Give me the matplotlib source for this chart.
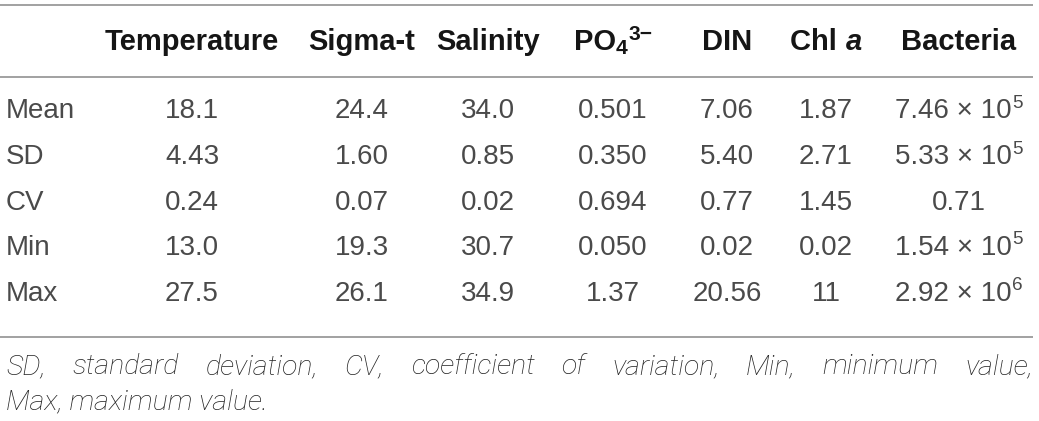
import matplotlib
matplotlib.use('Agg')
import matplotlib.pyplot as plt

row_labels = ['Mean', 'SD', 'CV', 'Min', 'Max']
temperature = ['18.1', '4.43', '0.24', '13.0', '27.5']
sigma_t = ['24.4', '1.60', '0.07', '19.3', '26.1']
salinity = ['34.0', '0.85', '0.02', '30.7', '34.9']
phosphate = ['0.501', '0.350', '0.694', '0.050', '1.37']
din = ['7.06', '5.40', '0.77', '0.02', '20.56']
chl_a = ['1.87', '2.71', '1.45', '0.02', '11']
bacteria_base = ['7.46 \u00d7 10', '5.33 \u00d7 10', '0.71', '1.54 \u00d7 10', '2.92 \u00d7 10']
bacteria_exp = ['5', '5', '', '5', '6']
footnote = ('SD, standard deviation, CV, coefficient of variation, '
            'Min, minimum value,')
footnote_2 = 'Max, maximum value.'

W, H = 1039, 421
BODY = 'Liberation Sans'
HEAD = 'Liberation Sans'
BODY_COLOR = '#4a4a4a'
HEAD_COLOR = '#151515'
LINE_COLOR = '#9a9a9a'
FS = 20
HFS = 21

fig = plt.figure(figsize=(W / 100, H / 100), dpi=100)
ax = fig.add_axes([0, 0, 1, 1])
ax.set_xlim(0, W)
ax.set_ylim(H, 0)
ax.axis('off')
renderer = fig.canvas.get_renderer()


def width_of(t):
    bb = t.get_window_extent(renderer)
    return bb.width


def runs(x_center, y, parts):
    # parts: list of (text, size, kwargs, dy, dx)
    items = []
    for s, size, kw, dy, dx in parts:
        t = ax.text(0, y + dy, s, fontsize=size, va='center', ha='left', **kw)
        items.append((t, dx))
    total = sum(width_of(t) + dx for t, dx in items)
    x = x_center - total / 2
    for t, dx in items:
        x += dx
        t.set_x(x)
        x += width_of(t)


# rules
for yl in [5, 77, 337]:
    ax.plot([0, 1033], [yl, yl], color=LINE_COLOR, lw=1.3, solid_capstyle='butt')

col_x = [192, 362, 488, 613, 727, 826, 959]
head_y = 42
row_y = [111, 157, 203, 248, 294]

hk = dict(family=HEAD, weight='bold', color=HEAD_COLOR)
for name, x in zip(['Temperature', 'Sigma-t', 'Salinity', 'DIN', 'Bacteria'],
                   [col_x[0], col_x[1], col_x[2], col_x[4], col_x[6]]):
    ax.text(x, head_y, name, fontsize=HFS, ha='center', va='center', **hk)
runs(col_x[3], head_y, [('PO', HFS, hk, 0, 0), ('4', HFS * 0.72, hk, 7, 0),
                        ('3\u2212', HFS * 0.72, hk, -8, 1)])
runs(col_x[5], head_y, [('Chl ', HFS, hk, 0, 0),
                        ('a', HFS, dict(hk, style='italic'), 0, 0)])

bk = dict(family=BODY, weight='normal', color=BODY_COLOR)
columns = [temperature, sigma_t, salinity, phosphate, din, chl_a]
for i, y in enumerate(row_y):
    ax.text(6, y, row_labels[i], fontsize=FS, ha='left', va='center', **bk)
    for col, x in zip(columns, col_x):
        ax.text(x, y, col[i], fontsize=FS, ha='center', va='center', **bk)
    if bacteria_exp[i]:
        runs(col_x[6], y, [(bacteria_base[i], FS, bk, 0, 0),
                           (bacteria_exp[i], FS * 0.68, bk, -8, 0)])
    else:
        ax.text(col_x[6], y, bacteria_base[i], fontsize=FS, ha='center',
                va='center', **bk)

# footnote, first line justified
fk = dict(family='Roboto', weight='light', style='italic', color='#222222')
FN = 20.5
words = footnote.split()
texts = [ax.text(0, 367, w, fontsize=FN, ha='left', va='center', **fk) for w in words]
widths = [width_of(t) for t in texts]
left, right = 6, 1033
gap = (right - left - sum(widths)) / (len(words) - 1)
x = left
for t, w in zip(texts, widths):
    t.set_x(x)
    x += w + gap
ax.text(left, 402, footnote_2, fontsize=FN, ha='left', va='center', **fk)

fig.savefig('out.png', dpi=100)
